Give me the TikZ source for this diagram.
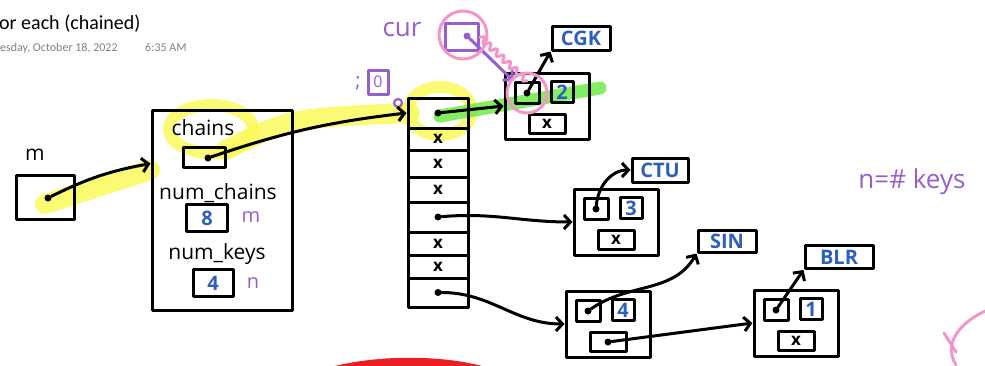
\documentclass[tikz,border=0pt]{standalone}
\usepackage{fontspec}
\setmainfont{Open Sans}
\newfontfamily\notefont{Carlito}
\usetikzlibrary{arrows.meta,decorations.pathmorphing}
\definecolor{inkblue}{RGB}{45,95,190}
\definecolor{inkpurple}{RGB}{150,95,205}
\definecolor{inkpink}{RGB}{245,150,200}
\definecolor{hiyellow}{RGB}{250,250,90}
\definecolor{higreen}{RGB}{110,235,70}
\definecolor{inkred}{RGB}{235,30,40}
\tikzset{
  ink/.style={line width=3pt,line cap=round,line join=round},
  box/.style={draw,ink,inner sep=0pt},
  ptr/.style={ink,-{Straight Barb[length=6.5pt,width=14pt]}},
  dot/.style={circle,fill,inner sep=0pt,minimum size=7pt},
  hand/.style={font=\fontsize{21}{21}\selectfont},
  key/.style={text=inkblue,font=\fontsize{20}{20}\selectfont\bfseries},
  nil/.style={font=\fontsize{17}{17}\selectfont\bfseries},
  note/.style={text=inkpurple,font=\fontsize{20}{20}\selectfont},
  hilite/.style={line width=#1,line cap=round,line join=round,opacity=0.85}
}
\begin{document}
\begin{tikzpicture}[x=1pt,y=-1pt]
  \useasboundingbox (0,0) rectangle (985,365);
  \draw[hilite=20pt,hiyellow] (45,204) -- (150,170);
  \draw[hilite=20pt,hiyellow] (226,150) .. controls (290,118) .. (410,113);
  \draw[hilite=12pt,hiyellow] (211,129) ellipse [x radius=42pt,y radius=24pt];
  \draw[hilite=12pt,hiyellow] (440,111) ellipse [x radius=32pt,y radius=24pt];
  \draw[hilite=13pt,higreen] (440,116) -- (600,88);

  \node[anchor=base west,inner sep=0pt,font=\notefont\fontsize{20}{20}\selectfont] (title) at (-1,29) {or each (chained)};
  \node[anchor=base west,inner sep=0pt,text=gray,font=\notefont\fontsize{12}{12}\selectfont] (date) at (0,51) {esday, October 18, 2022};
  \node[anchor=base west,inner sep=0pt,text=gray,font=\notefont\fontsize{12}{12}\selectfont] (time) at (145,51) {6:35 AM};

  \node[hand] (mlab) at (35,155) {m};
  \node[box,minimum width=58,minimum height=44] (mbox) at (45,197) {};
  \node[dot] (dm) at (48,198) {};

  \node[box,minimum width=140,minimum height=200] (st) at (222,210) {};
  \node[hand] (lchains) at (203,128) {chains};
  \node[box,minimum width=42,minimum height=20] (bchains) at (204,157) {};
  \node[dot] (dch) at (208,158) {};
  \node[hand] (lnumc) at (218,193) {num\_chains};
  \node[box,minimum width=41,minimum height=27,key] (bnumc) at (207,218) {8};
  \node[note] (lm) at (251,217) {m};
  \node[hand] (lnumk) at (217,254) {num\_keys};
  \node[box,minimum width=40,minimum height=27,key] (bnumk) at (213,283) {4};
  \node[note] (ln) at (253,283) {n};

  \foreach \i/\t/\b in {0/98/128,1/128/150,2/150/177,3/177/202,4/202/232,5/232/255,6/255/278,7/278/307}
    \node[box,minimum width=60,minimum height={\b-\t}] (c\i) at (438,{(\t+\b)/2}) {};
  \foreach \i in {1,2,3,5,6}
    \node[nil] at (c\i) {x};
  \node[dot] (d0) at (c0) {};
  \node[dot] (d4) at (c4) {};
  \node[dot] (d7) at (c7) {};

  \node[note,font=\fontsize{20}{20}\selectfont] (semi) at (358,83) {;};
  \node[box,draw=inkpurple,minimum width=20,minimum height=24,note,font=\fontsize{16}{16}\selectfont] (bi) at (378,82) {0};
  \draw[ink,inkpurple,line width=2.2pt] (398,103) circle [radius=4pt];

  \node[note,font=\fontsize{26}{26}\selectfont] (lcur) at (402,30) {cur};
  \node[box,draw=inkpurple,minimum width=33,minimum height=27] (bcur) at (462,37) {};
  \node[dot,inkpurple] (dcur) at (467,36) {};

  \foreach \n/\cx/\cy/\k in {1/547/106/2,2/616/222/3,3/608/324/4,4/796/323/1}{
    \node[box,minimum width=84,minimum height=66] (n\n) at (\cx,\cy) {};
    \node[box,minimum width=24,minimum height=21] (a\n) at (\cx-20,\cy-13) {};
    \node[box,minimum width=22,minimum height=21,key] (b\n) at (\cx+15,\cy-14) {\k};
    \node[box,minimum width=36,minimum height=19] (e\n) at (\cx,\cy+18) {};
    \node[dot] (p\n) at (a\n) {};
  }
  \foreach \n in {1,2,4}
    \node[nil] at (e\n) {x};
  \node[dot] (q3) at (e3) {};

  \node[box,minimum width=58,minimum height=24,key] (lcgk) at (581,38) {CGK};
  \node[box,minimum width=56,minimum height=24,key] (lctu) at (660,170) {CTU};
  \node[box,minimum width=58,minimum height=22,key] (lsin) at (727,241) {SIN};
  \node[box,minimum width=68,minimum height=23,key] (lblr) at (839,257) {BLR};

  \draw[ptr] (dm) to[bend left=8] (st.147);
  \draw[ptr] (dch) to[bend left=6] (c0.west);
  \draw[ptr] (d0) -- (n1.west);
  \draw[ptr,inkpurple] (dcur) -- (a1.north west);
  \draw[ptr] (p1) -- (lcgk.south west);
  \draw[ptr] (d4) to[out=5,in=180] (n2.west);
  \draw[ptr] (p2) to[out=85,in=180] (lctu.west);
  \draw[ptr] (d7) to[out=0,in=180] (n3.west);
  \draw[ptr] (p3) to[out=35,in=240] (lsin.south west);
  \draw[ptr] (q3) -- (n4.west);
  \draw[ptr] (p4) -- (lblr.south west);

  \draw[ink,inkpink] (463,35) circle [radius=24pt];
  \draw[ink,inkpink] (a1) circle [radius=20pt];
  \draw[ink,inkpink,decorate,decoration={snake,amplitude=3pt,segment length=9pt}] (bcur.east) -- (a1.north);

  \node[note,font=\fontsize{26}{26}\selectfont] (lnkeys) at (912,182) {n=\# keys};

  \fill[inkred] (335,366) .. controls (380,355) and (440,355) .. (482,366) -- cycle;
  \draw[ink,inkpink] (985,311) .. controls (962,322) and (942,342) .. (956,365);
  \draw[ink,inkpink] (944,333) -- (956,352);
\end{tikzpicture}
\end{document}
